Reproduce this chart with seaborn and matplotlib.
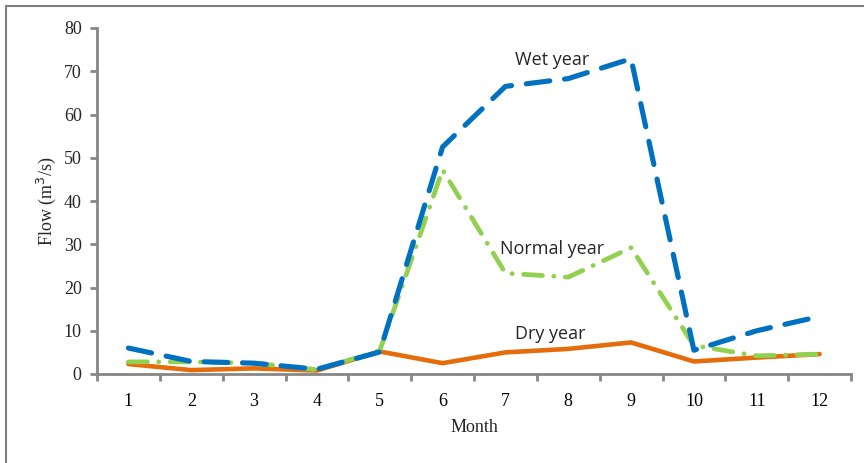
import numpy as np
import pandas as pd
import matplotlib.pyplot as plt
import seaborn as sns
from matplotlib.patches import Rectangle

months = list(range(1, 13))
wet_year = [6.0, 2.9, 2.5, 1.1, 5.1, 52.5, 66.5, 68.3, 72.9, 5.5, 10.0, 13.3]
normal_year = [2.8, 2.8, 2.5, 1.0, 5.4, 47.2, 23.3, 22.4, 29.2, 6.6, 4.2, 4.6]
dry_year = [2.3, 0.9, 1.3, 0.8, 5.2, 2.5, 5.0, 5.8, 7.3, 2.9, 3.8, 4.6]

df = pd.DataFrame({'Month': months, 'Wet year': wet_year,
                   'Normal year': normal_year, 'Dry year': dry_year})

sns.set_style("white")
plt.rcParams['font.family'] = ['Liberation Serif', 'DejaVu Serif']

fig = plt.figure(figsize=(8.64, 4.63), dpi=100)
ax = fig.add_axes([97/864, 1-374/463, (851-97)/864, (374-28)/463])

gray = '#868686'
sns.lineplot(data=df, x='Month', y='Dry year', ax=ax, color='#E46C0A',
             linewidth=3.3, solid_capstyle='round', solid_joinstyle='round')
sns.lineplot(data=df, x='Month', y='Normal year', ax=ax, color='#92D050',
             linewidth=3.4, dashes=False)
sns.lineplot(data=df, x='Month', y='Wet year', ax=ax, color='#0070C0',
             linewidth=3.7, dashes=False)
lines = ax.get_lines()
lines[1].set_dashes([4.0, 2.4, 0.05, 2.4])
lines[1].set_dash_capstyle('round')
lines[2].set_dashes([4.6, 2.9])
lines[2].set_dash_capstyle('round')

ax.set_xlim(0.5, 12.5)
ax.set_ylim(0, 80)
ax.set_yticks(range(0, 81, 10))
ax.set_xticks(months)
ax.set_xticks(np.arange(0.5, 13, 1), minor=True)
ax.tick_params(axis='x', which='major', bottom=False, length=0, labelsize=13, pad=14, colors='#000000')
ax.tick_params(axis='x', which='minor', bottom=True, length=5, width=2, color=gray, direction='out')
ax.tick_params(axis='y', left=True, length=5, width=2, color=gray, direction='out', labelsize=13, pad=6)

for s in ['top', 'right']:
    ax.spines[s].set_visible(False)
for s in ['left', 'bottom']:
    ax.spines[s].set_color(gray)
    ax.spines[s].set_linewidth(2)

ax.set_xlabel('Month', fontsize=13, labelpad=6)
ax.set_ylabel('Flow (m$^3$/s)', fontsize=13, labelpad=4)

lab = dict(fontsize=13, ha='center', va='center', family=['Open Sans', 'DejaVu Sans'])
ax.text(7.74, 72.6, 'Wet year', **lab)
ax.text(7.75, 28.9, 'Normal year', **lab)
ax.text(7.71, 9.2, 'Dry year', **lab)

fig.patches.append(Rectangle((6/864, -0.1), 1.2, 1 - 6/463 + 0.1, transform=fig.transFigure,
                             fill=False, edgecolor='#7f7f7f', linewidth=1.5))

fig.savefig('out.png', dpi=100)
